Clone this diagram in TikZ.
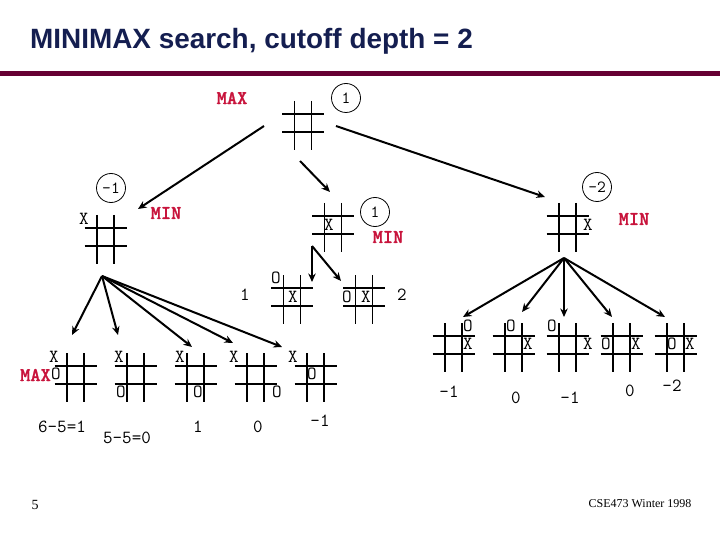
\documentclass[tikz,border=0pt]{standalone}
\usepackage{fontspec}
\setmainfont{Liberation Serif}
\newfontfamily\titlefont{Liberation Sans}
\newfontfamily\redfont{lmmonolt10-bold.otf}[FakeBold=1.2]
\usetikzlibrary{arrows.meta}
\definecolor{minred}{RGB}{200,20,60}
\definecolor{titleblue}{RGB}{20,30,80}
\definecolor{rulemaroon}{RGB}{102,0,51}
\tikzset{
  mk/.style={font=\ttfamily\fontsize{18.5}{18.5}\selectfont, inner sep=0pt},
  val/.style={font=\ttfamily\fontsize{18.5}{18.5}\selectfont, inner sep=0pt},
  lbl/.style={font=\redfont\fontsize{19.5}{19.5}\selectfont, text=minred, inner sep=0pt},
  cval/.style={circle, draw, line width=0.8pt, minimum size=29pt, inner sep=0pt, font=\ttfamily\fontsize{17}{17}\selectfont},
  edge/.style={line width=2pt, -{Stealth[length=8.5pt,width=7.5pt]}},
  board/.pic={
    \draw[line width=1.1pt] (-21,-9) -- (21,-9) (-21,9) -- (21,9)
      (-8.5,-22) -- (-8.5,27) (8.5,-22) -- (8.5,27);
    \coordinate (-c) at (0,0);
  }
}
\begin{document}
\begin{tikzpicture}[x=1pt,y=-1pt]
\useasboundingbox (0,0) rectangle (720,540);
% title and rule
\node[anchor=base west, inner sep=0pt, text=titleblue, font=\titlefont\bfseries\fontsize{27.9}{30}\selectfont] (title) at (30,49) {MINIMAX search, cutoff depth = 2};
\fill[rulemaroon] (0,71) rectangle (720,76);

% boards
\pic (b0) at (303,123) {board};
\pic (bl) at (105.5,237) {board};
\pic (bm) at (333,225) {board};
\pic (br) at (567.5,225) {board};
\pic (ma) at (292,297) {board};
\pic (mb) at (364,297) {board};
\pic (r1) at (453.5,345) {board};
\pic (r2) at (513.5,345) {board};
\pic (r3) at (567.5,345) {board};
\pic (r4) at (621.5,345) {board};
\pic (r5) at (675.5,345) {board};
\pic (l1) at (75.5,375) {board};
\pic (l2) at (135.5,375) {board};
\pic (l3) at (195.5,375) {board};
\pic (l4) at (255.5,375) {board};
\pic (l5) at (315.5,375) {board};

% marks
\node[mk] (blx) at (84,219) {X};
\node[mk] (bmx) at (329,225) {X};
\node[mk] (brx) at (588,225) {X};
\node[mk] (mao) at (276,278) {O};
\node[mk] (max) at (293,297) {X};
\node[mk] (mbo) at (347,297) {O};
\node[mk] (mbx) at (366,297) {X};
\node[mk] (r1o) at (468,326) {O};
\node[mk] (r1x) at (468,344) {X};
\node[mk] (r2o) at (511,326) {O};
\node[mk] (r2x) at (528,344) {X};
\node[mk] (r3o) at (552,326) {O};
\node[mk] (r3x) at (588,344) {X};
\node[mk] (r4o) at (606,344) {O};
\node[mk] (r4x) at (636,344) {X};
\node[mk] (r5o) at (672,344) {O};
\node[mk] (r5x) at (690,344) {X};
\node[mk] (l1x) at (54,357) {X};
\node[mk] (l1o) at (56,374) {O};
\node[mk] (l2x) at (119,357) {X};
\node[mk] (l2o) at (121,392) {O};
\node[mk] (l3x) at (180,357) {X};
\node[mk] (l3o) at (198,392) {O};
\node[mk] (l4x) at (234,357) {X};
\node[mk] (l4o) at (277,392) {O};
\node[mk] (l5x) at (293,357) {X};
\node[mk] (l5o) at (312,374) {O};

% player labels
\node[lbl] (lmax) at (232,98) {MAX};
\node[lbl] (lmin1) at (166,213) {MIN};
\node[lbl] (lmin2) at (388,237) {MIN};
\node[lbl] (lmin3) at (634,219) {MIN};
\node[lbl, anchor=east] (lmax2) at (51,375) {MAX};

% circled values
\node[cval] (c0) at (346,98) {1};
\node[cval] (cl) at (111,188) {-1};
\node[cval] (cm) at (375,212) {1};
\node[cval] (cr) at (597,187) {-2};

% leaf values
\node[val] (vl1) at (62,427) {6-5=1};
\node[val] (vl2) at (127,438) {5-5=0};
\node[val] (vl3) at (198,427) {1};
\node[val] (vl4) at (258,427) {0};
\node[val] (vl5) at (320,421) {-1};
\node[val] (vma) at (245,295) {1};
\node[val] (vmb) at (402,295) {2};
\node[val] (vr1) at (449,392) {-1};
\node[val] (vr2) at (516,398) {0};
\node[val] (vr3) at (570,398) {-1};
\node[val] (vr4) at (630,391) {0};
\node[val] (vr5) at (672,386) {-2};

% connector end points
\coordinate (s0l) at (264,126);
\coordinate (s0r) at (336,126);
\coordinate (s0m) at (300,161);
\coordinate (tl) at (138,209);
\coordinate (tm) at (330,192);
\coordinate (tr) at (545,197);
\coordinate (sl) at (102,276);
\coordinate (sm) at (312,246);
\coordinate (sr) at (564,258);
\coordinate (tl1) at (72,335);
\coordinate (tl2) at (118,335);
\coordinate (tl3) at (192,347);
\coordinate (tl4) at (233,343);
\coordinate (tl5) at (282,347);
\coordinate (tma) at (312,282);
\coordinate (tmb) at (341,281);
\coordinate (tr1) at (463,317);
\coordinate (tr2) at (522,312);
\coordinate (tr3) at (564,317);
\coordinate (tr4) at (612,317);
\coordinate (tr5) at (665,317);

% connectors
\draw[edge] (s0l) -- (tl);
\draw[edge] (s0m) -- (tm);
\draw[edge] (s0r) -- (tr);
\foreach \t in {tl1,tl2,tl3,tl4,tl5} \draw[edge] (sl) -- (\t);
\foreach \t in {tma,tmb} \draw[edge] (sm) -- (\t);
\foreach \t in {tr1,tr2,tr3,tr4,tr5} \draw[edge] (sr) -- (\t);

% footer
\node[inner sep=0pt, font=\fontsize{14}{14}\selectfont] (pg) at (35,505) {5};
\node[inner sep=0pt, font=\fontsize{12}{12}\selectfont] (foot) at (640,504) {CSE473 Winter 1998};
\end{tikzpicture}
\end{document}
